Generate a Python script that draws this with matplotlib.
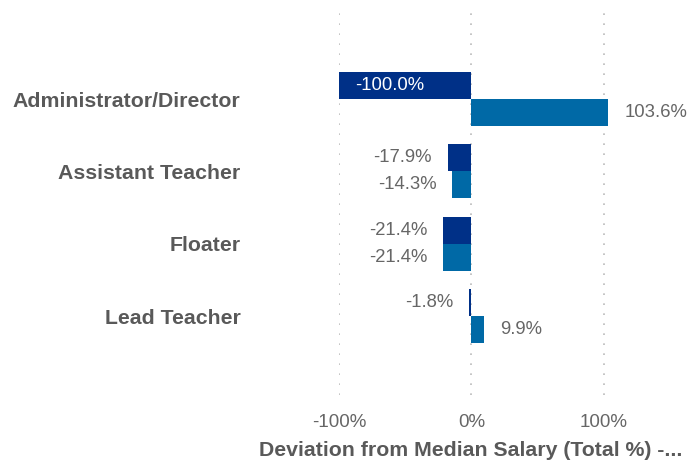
import numpy as np
import matplotlib.pyplot as plt

# data
roles = ['Administrator/Director', 'Assistant Teacher', 'Floater', 'Lead Teacher']
dev_a = [-100.0, -17.9, -21.4, -1.8]   # dark series
dev_b = [103.6, -14.3, -21.4, 9.9]     # light series

dark = '#003087'
light = '#0069A6'
grey = '#666666'

plt.rcParams['font.family'] = ['Liberation Sans', 'DejaVu Sans']

fig = plt.figure(figsize=(6.87, 4.61), dpi=100)
ax = fig.add_axes([339/687, 1 - 395/461, 348/687, 385/461])

y = np.arange(len(roles))
h = 0.372
ax.barh(y - h/2, dev_a, height=h, color=dark, zorder=2)
ax.barh(y + h/2, dev_b, height=h, color=light, zorder=2)

# value labels
fs = 13.3
gap = 12
for yi, v in zip(y, dev_a):
    if v <= -60:
        ax.text(v + gap, yi - h/2, f'{v:.1f}%', color='white', fontsize=fs,
                va='center', ha='left')
    elif v < 0:
        ax.text(v - gap, yi - h/2, f'{v:.1f}%', color=grey, fontsize=fs,
                va='center', ha='right')
    else:
        ax.text(v + gap, yi - h/2, f'{v:.1f}%', color=grey, fontsize=fs,
                va='center', ha='left')
for yi, v in zip(y, dev_b):
    if v < 0:
        ax.text(v - gap, yi + h/2, f'{v:.1f}%', color=grey, fontsize=fs,
                va='center', ha='right')
    else:
        ax.text(v + gap, yi + h/2, f'{v:.1f}%', color=grey, fontsize=fs,
                va='center', ha='left')

ax.set_xlim(-100, 163)
ax.set_ylim(3 + 1.09, -1.23)

ax.set_xticks([-100, 0, 100])
ax.set_xticklabels(['-100%', '0%', '100%'], fontsize=13.5, color=grey)
ax.set_yticks(y)
ax.set_yticklabels(roles, fontsize=15.3, fontweight='bold', color='#595959')
ax.tick_params(axis='y', length=0, pad=71)
ax.tick_params(axis='x', length=0, pad=14)

ax.xaxis.grid(True, linestyle=(0, (1, 5)), color='#bbbbbb', linewidth=1.2)
ax.set_axisbelow(True)
for s in ax.spines.values():
    s.set_visible(False)

ax.set_xlabel('Deviation from Median Salary (Total %) -...', fontsize=15.3,
              fontweight='bold', color='#595959')
ax.xaxis.set_label_coords((471 - 339) / 348, -55/385)
ax.xaxis.label.set_va('center')

fig.savefig('out.png', dpi=100)
